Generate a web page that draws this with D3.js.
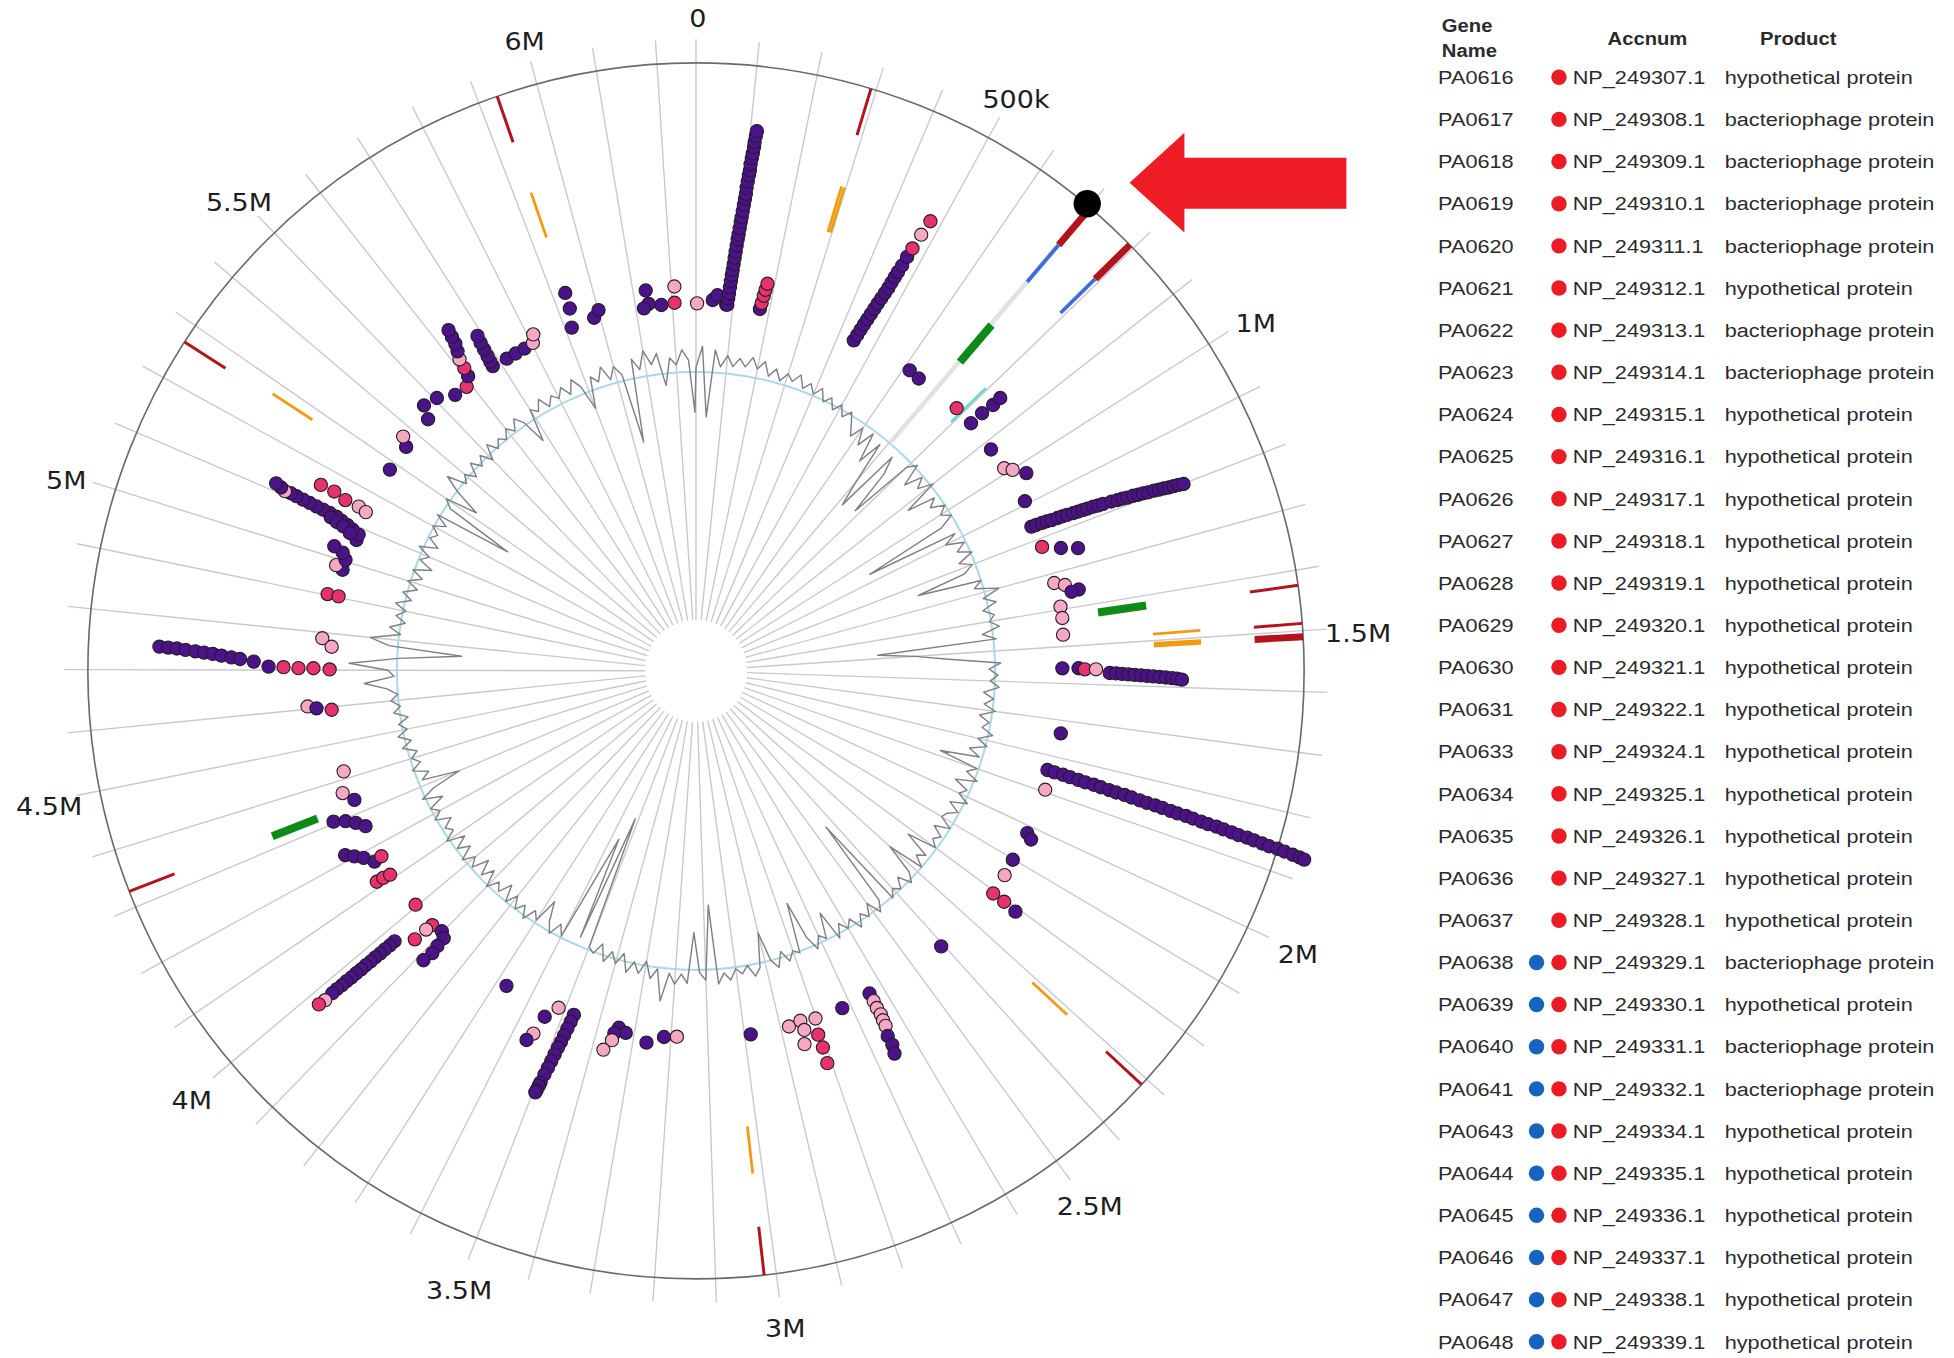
<!DOCTYPE html>
<html><head><meta charset="utf-8">
<script src="https://cdn.jsdelivr.net/npm/d3@7"></script>
<style>
html,body{margin:0;padding:0;background:#fff;}
svg{display:block;}
</style></head><body>
<svg id="chart" width="1954" height="1358" viewBox="0 0 1568 1090" preserveAspectRatio="none"></svg>
<script>
// ---------------- DATA ----------------
const GENOME_KB = 6264;
const tickKb = [0, 500, 1000, 1500, 2000, 2500, 3000, 3500, 4000, 4500, 5000, 5500, 6000];
const tickLabels = ["0", "500k", "1M", "1.5M", "2M", "2.5M", "3M", "3.5M", "4M", "4.5M", "5M", "5.5M", "6M"];
const spokeKb = d3.range(0, 6300, 100);

// GC content (%) sampled every 20 kb
const gcStepKb = 20;
const gcContent = [
66.9,68.3,63.6,68.1,67.0,67.8,67.1,67.7,67.2,67.9,
67.2,67.8,66.9,67.5,66.8,67.4,67.0,67.6,66.8,67.3,
66.7,67.3,66.5,67.0,66.3,66.9,66.2,66.8,66.1,65.4,
66.3,65.2,66.4,64.4,66.1,63.2,61.4,66.0,64.8,61.7,
66.2,66.8,65.3,66.5,65.8,66.8,64.4,66.3,65.7,66.6,
66.0,66.6,65.6,59.9,66.2,65.3,66.5,65.8,66.7,65.6,
66.4,65.7,62.3,66.6,66.0,67.6,66.4,67.2,66.2,66.9,
66.5,67.1,65.9,66.8,58.8,61.3,63.5,67.0,66.2,66.8,
66.3,66.9,65.9,66.6,66.0,66.8,65.8,66.5,66.1,66.9,
66.0,66.7,65.6,66.4,63.8,66.5,65.9,66.8,65.4,66.4,
66.0,66.8,65.7,66.5,65.9,65.7,66.6,65.6,66.4,66.0,
66.5,64.5,66.3,65.8,66.6,64.1,66.2,66.8,65.9,66.6,
66.2,66.7,60.2,66.2,66.9,65.9,66.7,66.2,67.0,66.1,
66.6,66.0,66.9,64.8,66.5,66.1,66.9,65.9,63.3,66.7,
66.4,67.0,66.2,67.2,66.6,64.6,66.9,67.4,66.6,67.1,
66.7,67.4,66.9,67.6,62.3,67.3,66.8,64.1,67.5,66.9,
67.6,66.9,68.8,66.7,67.4,66.3,67.2,66.5,67.3,66.1,
66.9,66.2,67.0,65.9,66.7,66.4,57.3,66.0,59.0,61.8,
66.5,65.8,66.7,66.0,64.7,66.4,65.9,66.8,66.0,66.6,
65.8,66.6,65.5,66.4,65.9,66.7,65.6,66.4,65.4,66.5,
65.9,66.7,65.7,66.5,65.6,66.8,66.0,66.4,65.7,66.7,
66.1,66.6,65.5,66.8,65.8,63.8,66.3,65.7,66.7,66.0,
66.5,66.0,66.9,66.2,67.0,66.3,66.8,66.1,67.0,66.5,
67.1,66.6,67.3,68.8,66.8,67.2,69.8,66.5,62.3,67.2,
68.5,66.5,67.3,66.3,67.0,66.4,67.2,66.2,66.9,66.0,
66.8,65.9,66.7,65.5,66.5,66.0,66.9,65.7,66.5,66.1,
66.7,65.9,66.8,61.5,66.3,66.9,64.7,66.5,67.7,66.4,
66.9,66.2,67.1,66.4,67.0,66.2,67.2,66.5,67.0,66.6,
67.2,66.7,67.4,66.8,65.1,67.3,66.9,67.6,66.8,67.4,
67.0,67.6,66.9,67.8,67.1,65.4,67.5,67.0,67.9,66.9,
67.7,67.0,62.3,67.9,67.1,68.3,67.3,68.0,65.8,67.6,67.1,68.1,67.4,63.9
];

// feature tracks (positions in kb)
const redThin = [5932, 291, 1425, 1488, 2312, 3020, 4328, 5268];
const redThick = [703, 792, 1510];
const blueMarks = [703, 792];
const orangeThin = [5933, 291, 297, 1486, 2311, 3020, 5276];
const orangeThick = [1509];
const greenMarks = [705, 1422, 4327];
const cyanMarks = [795];
const highlightKb = 703;
const selectedKb = 695;

// scored genes: [position kb, score, class]  A=purple B=crimson C=pink
const scoredGenes = [
// top
[3,4.5,"C"],[6206,4.6,"B"],[6208,5.9,"C"],[6170,4.5,"A"],[6133,5.8,"A"],[6136,4.7,"A"],[6122,4.4,"A"],
[45,4.8,"A"],[57,5.2,"A"],[82,4.5,"A"],
[85,4.5,"A"],[86,5.0,"A"],[87,5.4,"A"],[88,5.9,"A"],[89,6.4,"A"],[90,6.9,"A"],[91,7.3,"A"],[92,7.8,"A"],
[93,8.3,"A"],[94,8.8,"A"],[95,9.3,"A"],[96,9.8,"A"],[97,10.2,"A"],[98,10.7,"A"],[99,11.2,"A"],[100,11.6,"A"],
[101,12.1,"A"],[102,12.6,"A"],[103,13.1,"A"],[104,13.5,"A"],[104,14.0,"A"],[105,14.5,"A"],[106,15.0,"A"],
[107,15.4,"A"],[107,15.9,"A"],[108,16.4,"A"],[109,16.8,"A"],[110,17.3,"A"],[110,17.7,"A"],[111,18.2,"A"],[112,18.6,"A"],
[174,4.5,"A"],[176,5.0,"B"],[178,5.6,"B"],[180,6.1,"B"],[182,6.6,"B"],
// upper right
[444,4.4,"A"],[446,4.9,"A"],[448,5.4,"A"],[450,5.9,"A"],[452,6.4,"A"],[454,6.9,"A"],[456,7.4,"A"],[458,7.9,"A"],
[460,8.4,"A"],[462,8.9,"A"],[464,9.4,"A"],[465,9.9,"A"],[466,10.4,"A"],[467,10.9,"A"],[469,11.5,"A"],[470,12.3,"A"],
[472,13.1,"B"],[475,14.4,"C"],[479,15.7,"B"],
[616,4.6,"A"],[649,4.5,"A"],
[779,4.7,"B"],[835,4.7,"A"],[835,5.9,"A"],[838,7.0,"A"],[837,7.8,"A"],
[924,4.6,"A"],[986,4.6,"C"],[1002,5.1,"C"],[1028,5.9,"A"],[1091,4.7,"A"],
[1161,4.3,"A"],[1162,4.7,"A"],[1163,5.2,"A"],[1164,5.6,"A"],[1166,6.0,"A"],[1167,6.5,"A"],[1168,6.9,"A"],[1169,7.3,"A"],
[1171,7.8,"A"],[1172,8.2,"A"],[1173,8.6,"A"],[1174,9.0,"A"],[1175,9.5,"A"],[1177,9.9,"A"],[1178,10.3,"A"],[1180,11.0,"A"],
[1182,11.5,"A"],[1183,11.9,"A"],[1185,12.3,"A"],[1186,12.8,"A"],[1188,13.2,"A"],[1189,13.6,"A"],[1191,14.0,"A"],[1192,14.5,"A"],
[1194,14.9,"A"],[1195,15.3,"A"],[1197,15.7,"A"],[1198,16.1,"A"],[1199,16.5,"A"],[1201,16.9,"A"],
[1223,4.5,"B"],[1242,5.9,"A"],[1256,7.2,"A"],
[1326,4.6,"C"],[1338,5.4,"C"],[1357,6.4,"A"],[1359,5.8,"A"],
[1392,4.7,"C"],[1423,4.7,"C"],[1468,4.6,"C"],
// right
[1559,4.4,"A"],[1559,5.7,"A"],[1562,6.2,"B"],[1562,7.1,"C"],[1571,8.2,"A"],[1572,8.7,"A"],[1573,9.2,"A"],[1574,9.7,"A"],
[1575,10.2,"A"],[1576,10.7,"A"],[1577,11.2,"A"],[1578,11.7,"A"],[1579,12.2,"A"],[1580,12.7,"A"],[1581,13.2,"A"],[1582,13.6,"A"],[1584,14.0,"A"],
[1735,4.7,"A"],
[1840,4.3,"A"],[1841,4.9,"A"],[1841,5.6,"A"],[1842,6.2,"A"],[1843,6.9,"A"],[1844,7.5,"A"],[1844,8.2,"A"],[1845,8.8,"A"],
[1846,9.5,"A"],[1847,10.1,"A"],[1847,10.8,"A"],[1848,11.4,"A"],[1849,12.1,"A"],[1850,12.7,"A"],[1850,13.4,"A"],[1851,14.0,"A"],
[1852,14.7,"A"],[1853,15.3,"A"],[1853,16.0,"A"],[1854,16.6,"A"],[1855,17.3,"A"],[1856,17.9,"A"],[1856,18.6,"A"],[1857,19.2,"A"],
[1858,19.9,"A"],[1859,20.5,"A"],[1859,21.2,"A"],[1860,21.8,"A"],[1861,22.5,"A"],[1862,23.1,"A"],[1862,23.8,"A"],[1863,24.4,"A"],
[1864,25.1,"A"],[1865,25.7,"A"],[1866,26.1,"A"],
[1893,4.6,"C"],[2020,4.6,"A"],[2031,5.1,"A"],[2102,4.6,"A"],[2149,4.7,"C"],
[2207,4.8,"B"],[2207,5.9,"B"],[2210,7.1,"A"],[2407,4.6,"A"],
// bottom
[2640,4.4,"A"],[2640,5.1,"C"],[2641,5.7,"C"],[2640,6.3,"C"],[2642,6.8,"C"],[2643,7.3,"C"],[2650,8.1,"A"],[2650,8.9,"A"],[2655,9.6,"A"],
[2724,4.5,"A"],
[2877,4.5,"C"],[2843,4.3,"C"],[2802,4.5,"C"],[2840,5.1,"C"],[2809,5.8,"B"],[2850,6.2,"C"],[2808,6.9,"B"],[2810,8.2,"B"],
[2983,4.5,"A"],[3184,4.4,"C"],[3219,4.5,"A"],[3264,5.1,"A"],
[3344,4.3,"A"],[3323,4.6,"A"],[3353,4.8,"A"],[3355,5.4,"C"],[3371,6.3,"C"],
[3472,4.3,"A"],[3474,4.9,"A"],[3476,5.5,"A"],[3478,6.1,"A"],[3480,6.7,"A"],[3482,7.2,"A"],[3484,7.8,"A"],[3486,8.4,"A"],
[3488,9.0,"A"],[3490,9.6,"A"],[3492,10.3,"A"],[3493,10.6,"A"],[3494,11.0,"A"],[3495,11.2,"A"],
[3518,4.2,"C"],[3543,5.3,"A"],[3552,6.9,"C"],[3561,7.6,"A"],
[3672,4.5,"A"],
// lower left
[3933,4.4,"B"],[3936,5.0,"C"],[3903,4.2,"A"],[3886,4.5,"A"],[3884,5.3,"A"],[3881,6.0,"A"],[3938,6.2,"B"],[3885,6.9,"A"],
[3969,7.5,"A"],[3969,8.0,"A"],[3970,8.5,"A"],[3970,9.0,"A"],[3971,9.5,"A"],[3971,10.0,"A"],[3972,10.5,"A"],[3972,11.0,"A"],
[3973,11.5,"A"],[3973,12.0,"A"],[3974,12.5,"A"],[3974,13.0,"A"],[3975,13.5,"A"],[3975,14.0,"A"],[3974,14.8,"C"],[3976,15.4,"B"],
[4005,4.3,"B"],[4116,5.7,"B"],[4115,5.1,"B"],[4112,4.5,"B"],
[4216,6.8,"A"],[4202,6.2,"A"],[4187,5.6,"A"],[4164,5.0,"A"],[4167,4.3,"B"],
[4305,6.5,"A"],[4294,5.6,"A"],[4279,4.9,"A"],[4260,4.3,"A"],
[4366,5.0,"C"],[4338,4.3,"A"],[4421,4.4,"C"],
// left
[4607,6.3,"C"],[4600,5.6,"A"],[4592,4.4,"B"],
[4743,18.1,"A"],[4742,17.4,"A"],[4741,16.7,"A"],[4739,16.0,"A"],[4737,15.2,"A"],[4735,14.5,"A"],[4733,13.8,"A"],[4730,13.1,"A"],
[4727,12.3,"A"],[4724,11.6,"A"],[4719,10.5,"A"],[4708,9.3,"A"],[4707,8.1,"B"],[4705,6.9,"B"],[4705,5.7,"B"],[4702,4.4,"B"],
[4785,5.1,"C"],[4764,4.3,"C"],[4903,5.2,"B"],[4903,4.3,"B"],
[4976,4.5,"A"],[4983,5.1,"C"],[5004,4.5,"A"],[5020,4.9,"A"],[5029,5.7,"A"],[5065,4.2,"A"],
[5081,4.2,"A"],[5087,4.8,"A"],[5093,5.3,"A"],[5098,5.9,"A"],[5102,6.4,"A"],[5104,7.0,"A"],[5105,7.6,"A"],[5106,8.2,"A"],
[5107,8.8,"A"],[5108,9.4,"A"],[5109,10.0,"A"],[5110,10.5,"A"],[5109,11.0,"C"],[5113,11.4,"A"],[5117,11.9,"A"],
[5095,6.8,"A"],[5090,6.2,"A"],[5086,5.6,"A"],[5076,4.9,"A"],
[5157,8.6,"B"],[5157,7.4,"B"],[5150,6.3,"B"],[5150,5.1,"C"],[5145,4.4,"C"],
// upper left
[5278,4.4,"A"],[5354,4.4,"A"],[5371,5.1,"C"],[5450,4.5,"A"],[5469,5.5,"A"],[5507,5.2,"A"],
[5549,4.4,"A"],[5587,4.3,"B"],[5608,4.9,"A"],[5613,5.6,"B"],[5617,6.4,"C"],[5625,7.0,"A"],[5632,7.6,"A"],[5635,8.2,"A"],[5638,8.8,"A"],
[5678,4.4,"A"],[5679,4.8,"A"],[5681,5.3,"A"],[5683,5.9,"A"],[5685,6.5,"A"],[5688,7.1,"A"],
[5721,4.3,"A"],[5749,4.3,"A"],[5777,4.3,"A"],[5804,4.4,"C"],[5815,5.0,"C"],
[5918,4.3,"A"],[5930,5.8,"A"],[5932,7.1,"A"],[5984,4.5,"A"],[6001,5.0,"A"]
];

// gene table
const geneNames = ["PA0616","PA0617","PA0618","PA0619","PA0620","PA0621","PA0622","PA0623","PA0624","PA0625","PA0626","PA0627","PA0628","PA0629","PA0630","PA0631","PA0633","PA0634","PA0635","PA0636","PA0637","PA0638","PA0639","PA0640","PA0641","PA0643","PA0644","PA0645","PA0646","PA0647","PA0648"];
const accnums = ["NP_249307.1","NP_249308.1","NP_249309.1","NP_249310.1","NP_249311.1","NP_249312.1","NP_249313.1","NP_249314.1","NP_249315.1","NP_249316.1","NP_249317.1","NP_249318.1","NP_249319.1","NP_249320.1","NP_249321.1","NP_249322.1","NP_249324.1","NP_249325.1","NP_249326.1","NP_249327.1","NP_249328.1","NP_249329.1","NP_249330.1","NP_249331.1","NP_249332.1","NP_249334.1","NP_249335.1","NP_249336.1","NP_249337.1","NP_249338.1","NP_249339.1"];
const products = ["hypothetical protein","bacteriophage protein","bacteriophage protein","bacteriophage protein","bacteriophage protein","hypothetical protein","bacteriophage protein","bacteriophage protein","hypothetical protein","hypothetical protein","hypothetical protein","hypothetical protein","hypothetical protein","hypothetical protein","hypothetical protein","hypothetical protein","hypothetical protein","hypothetical protein","hypothetical protein","hypothetical protein","hypothetical protein","bacteriophage protein","hypothetical protein","bacteriophage protein","bacteriophage protein","hypothetical protein","hypothetical protein","hypothetical protein","hypothetical protein","hypothetical protein","hypothetical protein"];
const blueFlags = [0,0,0,0,0,0,0,0,0,0,0,0,0,0,0,0,0,0,0,0,0,1,1,1,1,1,1,1,1,1,1];

// ---------------- DRAW ----------------
const svg = d3.select("#chart");
const cx = 558.5, cy = 538.5;
const g = svg.append("g").attr("transform", `translate(${cx},${cy})`);

const angle = d3.scaleLinear().domain([0, GENOME_KB]).range([0, 2 * Math.PI]);
const rScore = d3.scaleLinear().domain([0, 26]).range([250, 510]);
const rGC = d3.scaleLinear().domain([56.6, 76.6]).range([120, 360]);
const classColor = d3.scaleOrdinal().domain(["A", "B", "C"]).range(["#4a138a", "#e6336b", "#f5a8c4"]);

const R_OUT = 488;
function pt(kb, r) { const a = angle(kb); return [r * Math.sin(a), -r * Math.cos(a)]; }

// spokes
g.append("g").selectAll("line").data(spokeKb).join("line")
  .attr("x1", d => pt(d, 41)[0]).attr("y1", d => pt(d, 41)[1])
  .attr("x2", d => pt(d, 507)[0]).attr("y2", d => pt(d, 507)[1])
  .attr("stroke", "#c9c9c9").attr("stroke-width", 1.1);

// outer circle
g.append("circle").attr("r", R_OUT).attr("fill", "none").attr("stroke", "#6a6a6a").attr("stroke-width", 1.3);

// highlight band
g.append("line")
  .attr("x1", pt(highlightKb, 242)[0]).attr("y1", pt(highlightKb, 242)[1])
  .attr("x2", pt(highlightKb, 447)[0]).attr("y2", pt(highlightKb, 447)[1])
  .attr("stroke", "#e1e1e1").attr("stroke-width", 3.5);

function track(data, r0, r1, color, width) {
  g.append("g").selectAll("line").data(data).join("line")
    .attr("x1", d => pt(d, r0)[0]).attr("y1", d => pt(d, r0)[1])
    .attr("x2", d => pt(d, r1)[0]).attr("y2", d => pt(d, r1)[1])
    .attr("stroke", color).attr("stroke-width", width);
}
track(redThin, 449, 488, "#b3141c", 2.4);
track(redThick, 449, 488, "#b3141c", 5.5);
track(blueMarks, 410, 449, "#3d6ee0", 3);
track(orangeThin, 368, 406, "#f39a10", 2.2);
track(orangeThick, 368, 406, "#f39a10", 4.5);
track(greenMarks, 326, 365, "#0f8a17", 6.5);
track(cyanMarks, 286, 325, "#5fdad4", 2);

// GC baseline + line
g.append("circle").attr("r", rGC(66.6)).attr("fill", "none").attr("stroke", "#a9d8e6").attr("stroke-width", 1.6);
const gcLine = d3.lineRadial()
  .angle((d, i) => angle(i * gcStepKb))
  .radius(d => rGC(d))
  .curve(d3.curveLinearClosed);
g.append("path").datum(gcContent).attr("d", gcLine)
  .attr("fill", "none").attr("stroke", "#808080").attr("stroke-width", 1.15).attr("stroke-linejoin", "round");

// scored gene dots
g.append("g").selectAll("circle").data(scoredGenes).join("circle")
  .attr("cx", d => pt(d[0], rScore(d[1]))[0])
  .attr("cy", d => pt(d[0], rScore(d[1]))[1])
  .attr("r", 5.3)
  .attr("fill", d => classColor(d[2]))
  .attr("stroke", "#2a1a2a").attr("stroke-width", 0.9);

// selected position marker
const sel = pt(selectedKb, 489);
g.append("circle").attr("cx", sel[0]).attr("cy", sel[1]).attr("r", 11).attr("fill", "#000");

// position labels
g.append("g").selectAll("text").data(tickKb).join("text")
  .attr("transform", d => { const a = angle(d); return `translate(${1.5 + 531 * Math.sin(a)},${4.5 - 528 * Math.cos(a)}) scale(1.11,1)`; })
  .attr("text-anchor", "middle").attr("dy", "0.36em")
  .attr("font-family", "DejaVu Sans, sans-serif").attr("font-size", 19.5).attr("fill", "#1e1e1e")
  .text((d, i) => tickLabels[i]);

// red arrow annotation pointing at the marker
const ax = cx + sel[0] + 34, ay = cy + sel[1] - 17;
svg.append("path")
  .attr("d", `M${ax},${ay} L${ax + 44},${ay - 40} L${ax + 44},${ay - 20} L${ax + 174},${ay - 20} L${ax + 174},${ay + 21} L${ax + 44},${ay + 21} L${ax + 44},${ay + 40} Z`)
  .attr("fill", "#ee1c25");

// ---------------- TABLE ----------------
const tbl = svg.append("g");
const rowY = d3.scaleLinear().domain([0, 30]).range([62, 1077]);
const SX = 1.16;
function ttext(x, y, s, opts) {
  return tbl.append("text")
    .attr("transform", `translate(${x},${y}) scale(${SX},1)`)
    .attr("dy", "0.36em")
    .attr("font-family", "Liberation Sans, Arial, sans-serif")
    .attr("font-size", opts.size).attr("fill", "#2b2b2b")
    .attr("text-anchor", opts.anchor || "start")
    .attr("font-weight", opts.bold ? "bold" : "normal")
    .text(s);
}
ttext(1157, 21, "Gene", {size: 14, bold: true});
ttext(1157, 41, "Name", {size: 14, bold: true});
ttext(1322, 31, "Accnum", {size: 14, bold: true, anchor: "middle"});
ttext(1443, 31, "Product", {size: 14, bold: true, anchor: "middle"});

geneNames.forEach((n, i) => {
  const y = rowY(i);
  ttext(1154, y, n, {size: 15});
  ttext(1262, y, accnums[i], {size: 15});
  ttext(1384, y, products[i], {size: 15});
  tbl.append("circle").attr("cx", 1251).attr("cy", y).attr("r", 6.2).attr("fill", "#ec1c24");
  if (blueFlags[i]) tbl.append("circle").attr("cx", 1233).attr("cy", y).attr("r", 6.2).attr("fill", "#1565c0");
});
</script>
</body></html>
